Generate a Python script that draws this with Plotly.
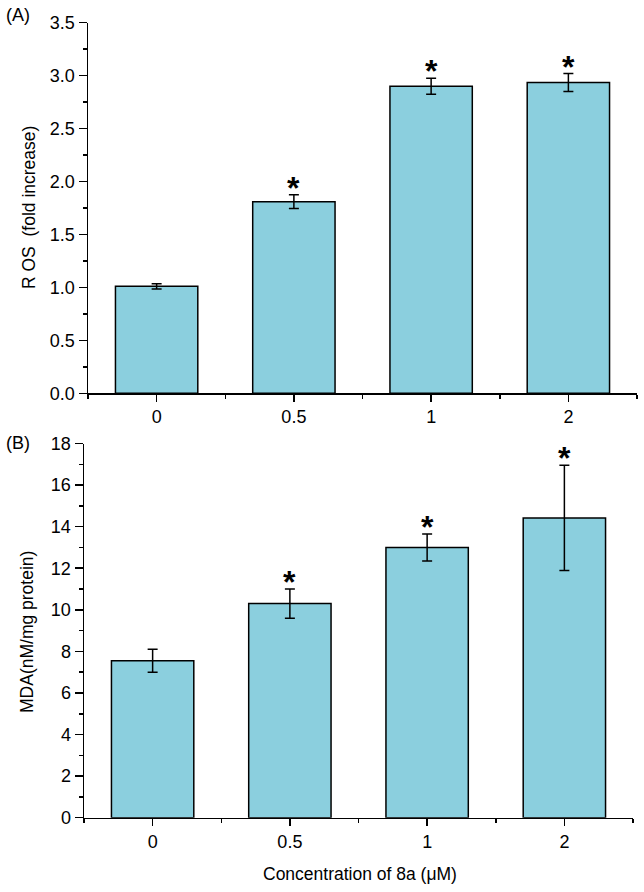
import plotly.graph_objects as go

# ---- data ----
categories = ["0", "0.5", "1", "2"]
ros_mean = [1.01, 1.81, 2.90, 2.935]
ros_err = [0.025, 0.065, 0.075, 0.085]
ros_sig = ["", "*", "*", "*"]

mda_mean = [7.55, 10.3, 13.0, 14.42]
mda_err = [0.55, 0.7, 0.65, 2.53]
mda_sig = ["", "*", "*", "*"]

ros_ticks = [0.0, 0.5, 1.0, 1.5, 2.0, 2.5, 3.0, 3.5]
mda_ticks = [0, 2, 4, 6, 8, 10, 12, 14, 16, 18]

W, H = 644, 892
FONT = "Arial, 'Liberation Sans', Helvetica, sans-serif"
BAR_COLOR = "#8BCFDE"

xpos = list(range(len(categories)))


def py(px):
    return 1 - px / H


def px_x(p):
    return p / W


fig = go.Figure()

for mean, err, xa, ya in [(ros_mean, ros_err, "x", "y"), (mda_mean, mda_err, "x2", "y2")]:
    fig.add_trace(go.Bar(
        x=xpos, y=mean, xaxis=xa, yaxis=ya, width=0.6,
        marker=dict(color=BAR_COLOR, line=dict(color="black", width=1.5)),
        error_y=dict(type="data", array=err, visible=True, color="black",
                     thickness=1.5, width=5),
        showlegend=False, hoverinfo="skip",
    ))

annotations = []
for mean, err, sig, xr, yr in [(ros_mean, ros_err, ros_sig, "x", "y"),
                               (mda_mean, mda_err, mda_sig, "x2", "y2")]:
    for i, (m, e, s) in enumerate(zip(mean, err, sig)):
        if s:
            annotations.append(dict(
                x=xpos[i], y=m + e, xref=xr, yref=yr, text="<b>" + s + "</b>",
                showarrow=False, yanchor="bottom", yshift=-13,
                font=dict(family=FONT, size=32, color="black"),
            ))


def txt(x, y, s, size=17.5, angle=0):
    return dict(x=px_x(x), y=py(y), xref="paper", yref="paper", text=s,
                showarrow=False, xanchor="center", yanchor="middle",
                textangle=angle, font=dict(family=FONT, size=size, color="black"))


annotations += [
    txt(18, 15, "(A)", 18),
    txt(18, 443, "(B)", 18),
    txt(29, 208, "R OS\u00a0 (fold increase)", 17.5, -90),
    txt(27, 632, "MDA(nM/mg protein)", 17.5, -90),
    txt(360, 874, "Concentration of 8a (\u03bcM)", 17.5),
]

xcommon = dict(
    range=[-0.5, 3.5], tickmode="array", tickvals=xpos, ticktext=categories,
    showline=True, linecolor="black", linewidth=1.5, mirror=False,
    ticks="outside", ticklen=7, tickwidth=1.5, tickcolor="black",
    showgrid=False, zeroline=False,
    tickfont=dict(family=FONT, size=18, color="black"),
    minor=dict(tickvals=[-0.5, 0.5, 1.5, 2.5, 3.5], ticks="outside", ticklen=4,
               tickwidth=1.5, tickcolor="black", showgrid=False),
    automargin=False, fixedrange=True,
)
ycommon = dict(
    showline=True, linecolor="black", linewidth=1.5, mirror=False,
    ticks="outside", ticklen=8, tickwidth=1.5, tickcolor="black",
    showgrid=False, zeroline=False,
    tickfont=dict(family=FONT, size=18, color="black"),
    automargin=False, fixedrange=True,
)

fig.update_layout(
    width=W, height=H,
    margin=dict(l=0, r=0, t=0, b=0),
    paper_bgcolor="white", plot_bgcolor="white",
    font=dict(family=FONT, size=17, color="black"),
    bargap=0.4,
    xaxis=dict(domain=[px_x(88), px_x(637)], anchor="y", **xcommon),
    yaxis=dict(domain=[py(393.3), py(22.7)], anchor="x", range=[0, 3.5],
               tickvals=ros_ticks, tickformat=".1f",
               minor=dict(dtick=0.25, tick0=0, ticks="outside", ticklen=4,
                          tickwidth=1.5, tickcolor="black", showgrid=False),
               **ycommon),
    xaxis2=dict(domain=[px_x(84), px_x(633)], anchor="y2", **xcommon),
    yaxis2=dict(domain=[py(817.7), py(443.5)], anchor="x2", range=[0, 18],
                tickvals=mda_ticks,
                minor=dict(dtick=1, tick0=0, ticks="outside", ticklen=4,
                           tickwidth=1.5, tickcolor="black", showgrid=False),
                **ycommon),
    annotations=annotations,
)

fig.write_html(
    "out.html",
    config={"displayModeBar": False, "staticPlot": True},
    post_script="document.body.style.margin='0';document.body.style.overflow='hidden';",
)
